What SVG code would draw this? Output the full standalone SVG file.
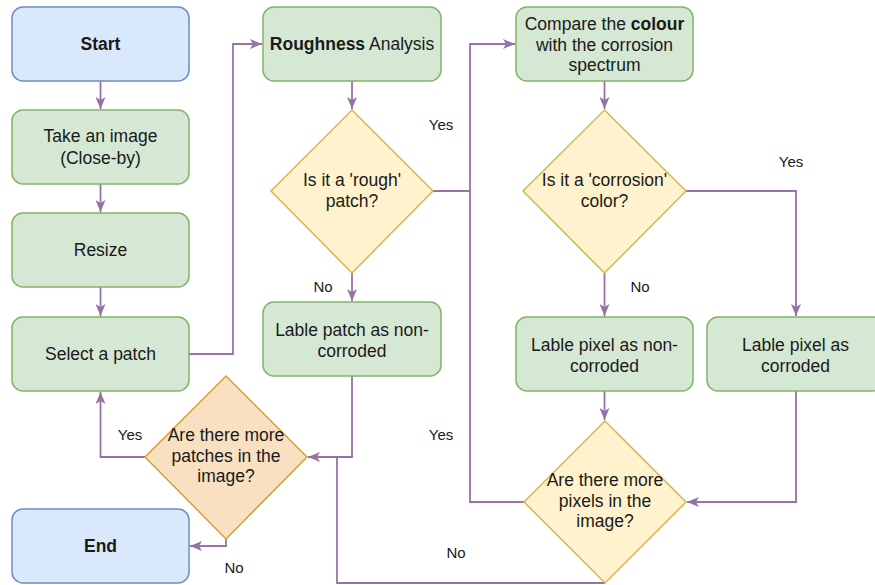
<svg xmlns="http://www.w3.org/2000/svg" width="875" height="585" viewBox="0 0 875 585">
<style>
.t{font-family:"Liberation Sans",Arial,sans-serif;font-size:17.5px;fill:#1a1a1a;text-anchor:middle}
.b{font-weight:bold}
.l{font-family:"Liberation Sans",Arial,sans-serif;font-size:15px;fill:#1a1a1a;text-anchor:middle}
.blue{fill:#dae8fc;stroke:#6c8ebf;stroke-width:1.5}
.green{fill:#d5e8d4;stroke:#82b366;stroke-width:1.5}
.yellow{fill:#fff2cc;stroke:#d6b656;stroke-width:1.5}
.orange{fill:#f8e0c0;stroke:#d6a030;stroke-width:1.5}
.c{fill:none;stroke:#9673a6;stroke-width:1.8}
</style>
<defs>
<marker id="a" markerUnits="userSpaceOnUse" markerWidth="12" markerHeight="10" refX="12" refY="5" orient="auto">
<path d="M0,0 L12,5 L0,10 L3,5 z" fill="#9673a6"/>
</marker>
</defs>
<rect width="875" height="585" fill="#ffffff"/>
<g id="connectors">
<path class="c" d="M100.5,81 V109" marker-end="url(#a)"/>
<path class="c" d="M100.5,184 V212" marker-end="url(#a)"/>
<path class="c" d="M100.5,287 V316" marker-end="url(#a)"/>
<path class="c" d="M189,354 H233 V44 H262" marker-end="url(#a)"/>
<path class="c" d="M352,81 V109" marker-end="url(#a)"/>
<path class="c" d="M352,273 V301" marker-end="url(#a)"/>
<path class="c" d="M433,191 H470 V44 H515" marker-end="url(#a)"/>
<path class="c" d="M524,502 H470 V191"/>
<path class="c" d="M604.5,81 V109" marker-end="url(#a)"/>
<path class="c" d="M604.5,273 V316" marker-end="url(#a)"/>
<path class="c" d="M686,191 H796 V316" marker-end="url(#a)"/>
<path class="c" d="M604.5,391 V420" marker-end="url(#a)"/>
<path class="c" d="M796,391 V502 H687" marker-end="url(#a)"/>
<path class="c" d="M605,583 H337 V457 H308" marker-end="url(#a)"/>
<path class="c" d="M352,376 V457 H337"/>
<path class="c" d="M145,457 H100.5 V392" marker-end="url(#a)"/>
<path class="c" d="M226,539 V546 H190" marker-end="url(#a)"/>
<text class="l" x="441" y="130">Yes</text>
<text class="l" x="323" y="292">No</text>
<text class="l" x="791" y="167">Yes</text>
<text class="l" x="640" y="292">No</text>
<text class="l" x="130" y="440">Yes</text>
<text class="l" x="234" y="573">No</text>
<text class="l" x="441" y="440">Yes</text>
<text class="l" x="456" y="558">No</text>
</g>
<g id="start">
<rect class="blue" x="12" y="7" width="177" height="74" rx="11"/>
<text class="t b" x="100.5" y="50">Start</text>
</g>
<g id="take-image">
<rect class="green" x="12" y="110" width="177" height="74" rx="11"/>
<text class="t" x="100.5" y="142">Take an image</text>
<text class="t" x="100.5" y="164">(Close-by)</text>
</g>
<g id="resize">
<rect class="green" x="12" y="213" width="177" height="74" rx="11"/>
<text class="t" x="100.5" y="256">Resize</text>
</g>
<g id="select-patch">
<rect class="green" x="12" y="317" width="177" height="74" rx="11"/>
<text class="t" x="100.5" y="360">Select a patch</text>
</g>
<g id="end">
<rect class="blue" x="12" y="509" width="177" height="74" rx="11"/>
<text class="t b" x="100.5" y="552">End</text>
</g>
<g id="roughness">
<rect class="green" x="263" y="7" width="178" height="74" rx="11"/>
<text class="t" x="352" y="50"><tspan class="b">Roughness</tspan> Analysis</text>
</g>
<g id="rough-decision">
<polygon class="yellow" points="352,110 433,191 352,273 271,191"/>
<text class="t" x="352" y="186">Is it a 'rough'</text>
<text class="t" x="352" y="207">patch?</text>
</g>
<g id="label-patch">
<rect class="green" x="263" y="302" width="178" height="74" rx="11"/>
<text class="t" x="352" y="336">Lable patch as non-</text>
<text class="t" x="352" y="357">corroded</text>
</g>
<g id="compare-colour">
<rect class="green" x="516" y="7" width="177" height="74" rx="11"/>
<text class="t" x="604.5" y="30">Compare the <tspan class="b">colour</tspan></text>
<text class="t" x="604.5" y="51">with the corrosion</text>
<text class="t" x="604.5" y="71">spectrum</text>
</g>
<g id="corrosion-decision">
<polygon class="yellow" points="604.5,110 686,191 604.5,273 523,191"/>
<text class="t" x="604.5" y="186">Is it a 'corrosion'</text>
<text class="t" x="604.5" y="207">color?</text>
</g>
<g id="label-pixel-non">
<rect class="green" x="516" y="317" width="177" height="74" rx="11"/>
<text class="t" x="604.5" y="351">Lable pixel as non-</text>
<text class="t" x="604.5" y="372">corroded</text>
</g>
<g id="label-pixel-corroded">
<rect class="green" x="707" y="317" width="177" height="74" rx="11"/>
<text class="t" x="795.5" y="351">Lable pixel as</text>
<text class="t" x="795.5" y="372">corroded</text>
</g>
<g id="pixels-decision">
<polygon class="yellow" points="605,421 686,502 605,583 524,502"/>
<text class="t" x="605" y="486">Are there more</text>
<text class="t" x="605" y="507">pixels in the</text>
<text class="t" x="605" y="527">image?</text>
</g>
<g id="patches-decision">
<polygon class="orange" points="226,376 307,457 226,539 145,457"/>
<text class="t" x="226" y="441">Are there more</text>
<text class="t" x="226" y="462">patches in the</text>
<text class="t" x="226" y="482">image?</text>
</g>
</svg>
